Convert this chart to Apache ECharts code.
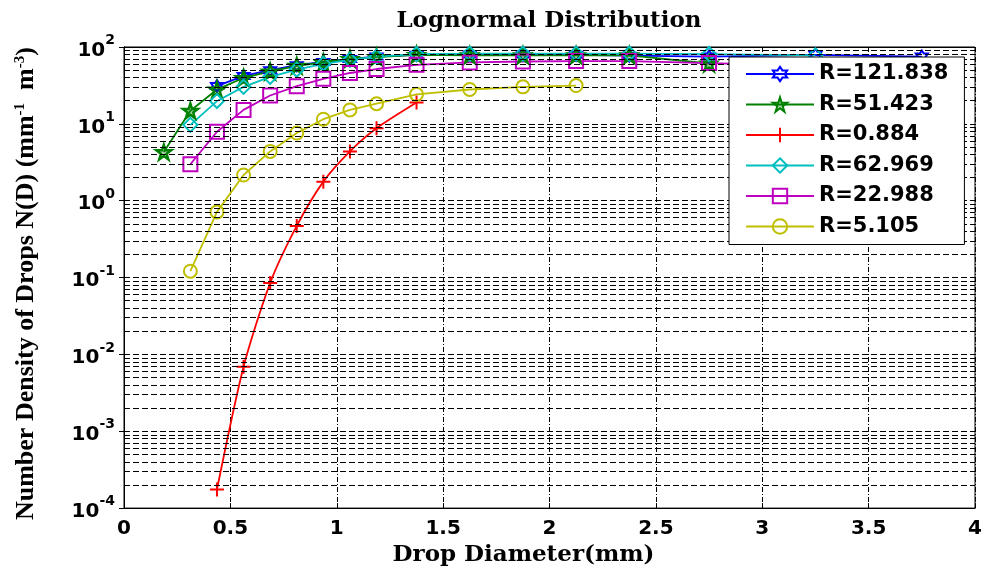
<!DOCTYPE html>
<html>
<head>
<meta charset="utf-8">
<title>Lognormal Distribution</title>
<script src="https://cdn.jsdelivr.net/npm/echarts@6/dist/echarts.min.js"></script>
<style>
  html, body { margin: 0; padding: 0; background: #fff; }
  #chart { width: 985px; height: 572px; }
</style>
</head>
<body>
<div id="chart"></div>
<script>
// Drop diameter class centres (mm)
const diameters = [0.187, 0.312, 0.437, 0.562, 0.687, 0.812, 0.937, 1.062, 1.187,
                   1.375, 1.625, 1.875, 2.125, 2.375, 2.75, 3.25, 3.75];

// Number density N(D) (mm^-1 m^-3) per rain rate, aligned with diameters (null = no drops)
const nR121_838 = [null, null, 31, 42, 50, 58, 64, 70, 75, 79, 80, 80, 79, 77, 75, 79, 75];
const nR51_423  = [4.3, 14.8, 28, 39.6, 48, 57, 63, 70, 74, 79, 78, 78, 78, 78, 61, null, null];
const nR0_884   = [null, null, 1.75e-4, 6.9e-3, 0.085, 0.47, 1.77, 4.38, 8.75, 18.9,
                   null, null, null, null, null, null, null];
const nR62_969  = [null, 9.7, 19.8, 30.3, 40.8, 50.6, 60.5, 68, 75, 81, 82, 82, 82, 82, 81, 78, null];
const nR22_988  = [null, 2.98, 7.9, 15.2, 23.4, 30.9, 38.5, 45.9, 51.7, 58.7, 63, 64.8, 65.5, 65.5, 61.7, 57, null];
const nR5_105   = [null, 0.121, 0.715, 2.16, 4.38, 7.6, 11.5, 15.2, 18.3, 24.2, 28, 30.3, 31.5,
                   null, null, null, null];

const seriesNames = ['R=121.838', 'R=51.423', 'R=0.884', 'R=62.969', 'R=22.988', 'R=5.105'];
const seriesColors = ['#0000ff', '#008000', '#ff0000', '#00bfbf', '#bf00bf', '#bfbf00'];

// Axis ranges and ticks
const xTicks = ['0', '0.5', '1', '1.5', '2', '2.5', '3', '3.5', '4'];
const yDecadeExponents = [-4, -3, -2, -1, 0, 1, 2];

// Marker outlines
const hexagram = 'path://M10,0 L12.89,5 L18.66,5 L15.77,10 L18.66,15 L12.89,15 L10,20 L7.11,15 L1.34,15 L4.23,10 L1.34,5 L7.11,5 Z';
const pentagram = 'path://M10,0 L12.25,6.91 L19.51,6.91 L13.63,11.18 L15.88,18.09 L10,13.82 L4.12,18.09 L6.37,11.18 L0.49,6.91 L7.75,6.91 Z';
const plus = 'path://M0,10 L20,10 M10,0 L10,20';

function pairs(values) {
  const out = [];
  values.forEach((v, i) => { if (v !== null) out.push([diameters[i], v]); });
  return out;
}

// Dashed grid lines at 2..9 within every decade
const minorGrid = [];
for (let k = 0; k < yDecadeExponents.length - 1; k++) {
  for (let m = 2; m <= 9; m++) minorGrid.push({ yAxis: m * Math.pow(10, yDecadeExponents[k]) });
}

const gridDash = { color: '#000', width: 1, type: [6, 3] };

function lineSeries(name, values, color, symbol, size, extra) {
  return Object.assign({
    name: name,
    type: 'line',
    data: pairs(values),
    symbol: symbol,
    symbolSize: size,
    lineStyle: { color: color, width: 1.8 },
    itemStyle: { color: 'rgba(255,255,255,0)', borderColor: color, borderWidth: 2 },
    emphasis: { disabled: true },
    z: 3
  }, extra || {});
}

const chart = echarts.init(document.getElementById('chart'), null, { renderer: 'canvas' });

const option = {
  animation: false,
  backgroundColor: '#fff',
  title: {
    text: 'Lognormal Distribution',
    left: 549,
    top: 10,
    padding: 0,
    textAlign: 'center',
    textStyle: { fontFamily: 'DejaVu Serif', fontWeight: 'bold', fontSize: 23, color: '#000' }
  },
  grid: {
    left: 124, right: 10, top: 47, bottom: 58,
    show: true, borderColor: '#000', borderWidth: 1, backgroundColor: '#fff'
  },
  legend: {
    data: seriesNames,
    orient: 'vertical',
    left: 729,
    top: 57,
    backgroundColor: '#fff',
    borderColor: '#000',
    borderWidth: 1,
    borderRadius: 0,
    padding: [5, 16, 6, 16],
    itemGap: 6.5,
    itemWidth: 68,
    itemHeight: 18,
    z: 10,
    selectedMode: false,
    textStyle: { fontFamily: 'DejaVu Sans', fontWeight: 'bold', fontSize: 21, color: '#000', lineHeight: 24 }
  },
  xAxis: [{
    type: 'value',
    min: 0, max: 4, interval: 0.5,
    position: 'bottom',
    name: 'Drop Diameter(mm)',
    nameLocation: 'middle',
    nameGap: 32,
    nameTextStyle: { fontFamily: 'DejaVu Serif', fontWeight: 'bold', fontSize: 23, color: '#000',
                     padding: [0, 52, 0, 0] },
    axisLine: { show: true, lineStyle: { color: '#000', width: 1 } },
    axisTick: { show: true, inside: true, length: 5, lineStyle: { color: '#000' } },
    axisLabel: {
      margin: 11,
      formatter: v => xTicks[Math.round(v / 0.5)],
      fontFamily: 'DejaVu Sans', fontWeight: 'bold', fontSize: 20, color: '#000'
    },
    splitLine: { show: true, lineStyle: { color: '#000', width: 1, type: [5, 2, 1, 2] } }
  }, {
    type: 'value',
    min: 0, max: 4, interval: 0.5,
    position: 'top',
    axisLine: { show: true, lineStyle: { color: '#000' } },
    axisTick: { show: true, inside: true, length: 5, lineStyle: { color: '#000' } },
    axisLabel: { show: false },
    splitLine: { show: false }
  }],
  yAxis: [{
    type: 'log',
    logBase: 10,
    min: 1e-4, max: 100,
    interval: 1,
    position: 'left',
    name: 'Number Density of Drops N(D) (mm{s|-1}  m{s|-3})',
    nameLocation: 'middle',
    nameRotate: 90,
    nameGap: 84,
    nameTextStyle: {
      fontFamily: 'Liberation Serif', fontWeight: 'bold', fontSize: 26, color: '#000',
      padding: [0, 12, 0, 0],
      rich: {
        s: { fontFamily: 'Liberation Serif', fontWeight: 'bold', fontSize: 15, color: '#000',
             verticalAlign: 'bottom', padding: [0, 0, 12, 0] }
      }
    },
    axisLine: { show: true, lineStyle: { color: '#000', width: 1 } },
    axisTick: { show: true, inside: true, length: 5, lineStyle: { color: '#000' } },
    axisLabel: {
      margin: 9,
      formatter: v => '{b|10}{e|' + Math.round(Math.log10(v)) + '}',
      rich: {
        b: { fontFamily: 'DejaVu Sans', fontWeight: 'bold', fontSize: 20, color: '#000',
             verticalAlign: 'bottom', lineHeight: 22 },
        e: { fontFamily: 'DejaVu Sans', fontWeight: 'bold', fontSize: 14, color: '#000',
             verticalAlign: 'bottom', padding: [0, 0, 13, 0] }
      }
    },
    splitLine: { show: true, lineStyle: gridDash }
  }, {
    type: 'log',
    logBase: 10,
    min: 1e-4, max: 100,
    interval: 1,
    position: 'right',
    axisLine: { show: true, lineStyle: { color: '#000' } },
    axisTick: { show: true, inside: true, length: 5, lineStyle: { color: '#000' } },
    axisLabel: { show: false },
    splitLine: { show: false }
  }],
  series: [
    {
      name: 'minor-grid',
      type: 'line',
      data: [],
      silent: true,
      z: 1,
      markLine: {
        silent: true,
        precision: 12,
        symbol: ['none', 'none'],
        label: { show: false },
        lineStyle: gridDash,
        emphasis: { disabled: true },
        data: minorGrid
      }
    },
    lineSeries(seriesNames[0], nR121_838, seriesColors[0], hexagram, 12),
    lineSeries(seriesNames[1], nR51_423, seriesColors[1], pentagram, 15,
               { itemStyle: { color: 'rgba(0,128,0,0.35)', borderColor: seriesColors[1], borderWidth: 2.4 } }),
    lineSeries(seriesNames[2], nR0_884, seriesColors[2], plus, 14, { smooth: 0.25 }),
    lineSeries(seriesNames[3], nR62_969, seriesColors[3], 'diamond', 14),
    lineSeries(seriesNames[4], nR22_988, seriesColors[4], 'rect', 14),
    lineSeries(seriesNames[5], nR5_105, seriesColors[5], 'circle', 13)
  ]
};

chart.setOption(option);
</script>
</body>
</html>
